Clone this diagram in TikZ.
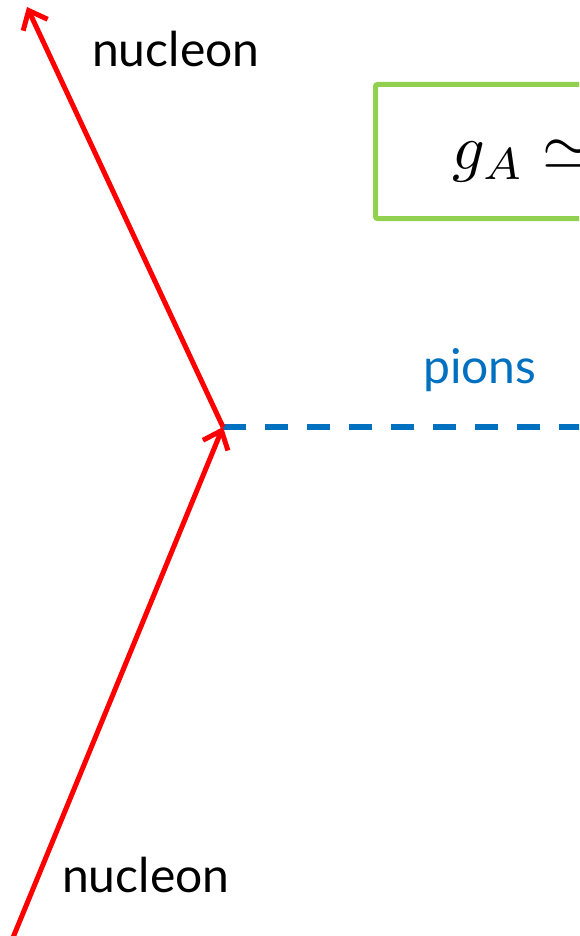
\documentclass[tikz,border=0pt]{standalone}
\usepackage{fontspec}
\setmainfont{Lato}
\usetikzlibrary{arrows.meta}
\definecolor{nucred}{HTML}{FF0000}
\definecolor{pionblue}{HTML}{0070C0}
\definecolor{boxgreen}{HTML}{92D050}
\tikzset{
  nucleonline/.style={draw=nucred, line width=5pt,
    -{Straight Barb[length=16pt,width=27pt,line width=5pt]}},
  pionline/.style={draw=pionblue, line width=6pt, dash pattern=on 23pt off 19pt},
  label/.style={font=\fontsize{48}{56}\selectfont, inner sep=0pt},
  eqbox/.style={draw=boxgreen, line width=5pt, rounded corners=2pt}
}
\begin{document}
\begin{tikzpicture}[x=1pt,y=-1pt]
  \useasboundingbox (0,0) rectangle (579,936);
  \clip (0,0) rectangle (579,936);
  % interaction vertex and line ends
  \coordinate (v) at (223,427);
  \coordinate (nin) at (12,940);
  \coordinate (nout) at (27,7);
  \coordinate (pout) at (620,427);
  % equation box, running past the right edge
  \node[eqbox, anchor=north west, minimum width=400pt, minimum height=134pt, inner sep=0pt] (box) at (373,82) {};
  \node[anchor=base west, inner sep=0pt, scale=6.4, transform shape] (ga) at (451,170) {$g_A \simeq$};
  % pion exchange
  \draw[pionline] (v) -- (pout);
  % nucleon lines
  \draw[nucleonline] (nin) -- (v);
  \draw[nucleonline] (v) -- (nout);
  % labels
  \node[label, anchor=base west] (ltop) at (92,67) {nucleon};
  \node[label, anchor=base west] (lbot) at (62,892) {nucleon};
  \node[label, anchor=base west, text=pionblue] (lpi) at (423,383) {pions};
\end{tikzpicture}
\end{document}
